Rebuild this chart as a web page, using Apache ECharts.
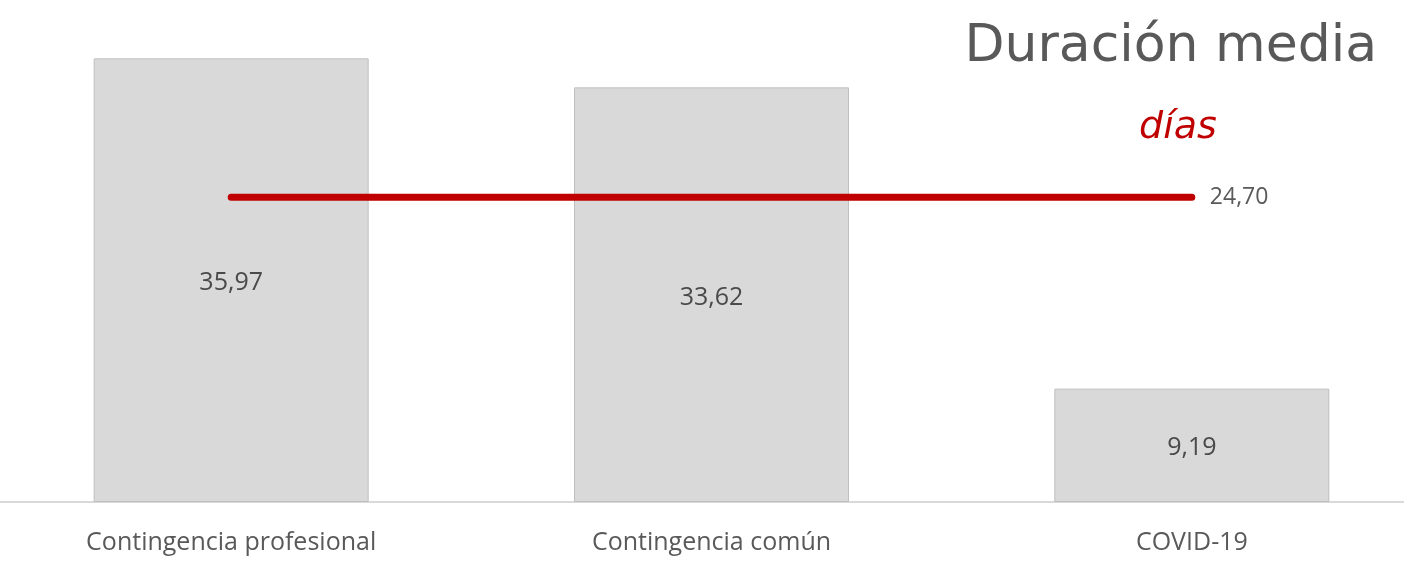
<!DOCTYPE html>
<html>
<head>
<meta charset="utf-8">
<script src="https://cdn.jsdelivr.net/npm/echarts@6/dist/echarts.min.js"></script>
<style>
html,body{margin:0;padding:0;background:#fff}
#main{width:1404px;height:569px}
</style>
</head>
<body>
<div id="main"></div>
<script>
// categorias y valores (días)
const categories = ['Contingencia profesional', 'Contingencia común', 'COVID-19']
const durationValues = [35.97, 33.62, 9.19]
// duración media global
const averageValues = [24.70, 24.70, 24.70]

const fmt = (v) => Number(v).toFixed(2).replace('.', ',')

const chart = echarts.init(document.getElementById('main'))
chart.setOption({
	animation: false,
	textStyle: { fontFamily: 'Open Sans' },
	title: [{
		text: 'Duración media',
		right: 22,
		top: 16,
		textStyle: { fontFamily: 'DejaVu Sans', fontWeight: 'normal', fontSize: 52, color: '#595959' }
	}, {
		text: 'días',
		left: 1173,
		textAlign: 'center',
		top: 104,
		textStyle: { fontFamily: 'DejaVu Sans', fontStyle: 'italic', fontWeight: 'normal', fontSize: 38, color: '#c00000' }
	}],
	grid: { left: -9, width: 1441, top: 58, bottom: 67, outerBoundsMode: 'none', containLabel: false },
	xAxis: {
		type: 'category',
		data: categories,
		axisTick: { show: false },
		axisLine: { lineStyle: { color: '#d9d9d9', width: 2 } },
		axisLabel: { color: '#595959', fontSize: 25, margin: 28, fontFamily: 'Open Sans' }
	},
	yAxis: {
		type: 'value',
		min: 0,
		max: 36,
		show: false,
		splitLine: { show: false }
	},
	series: [{
		type: 'bar',
		data: durationValues,
		barWidth: 275,
		itemStyle: { color: '#d9d9d9', borderColor: '#bfbfbf', borderWidth: 1 },
		label: {
			show: true,
			position: 'inside',
			offset: [0, 3],
			color: '#4a4a4a',
			fontSize: 25,
			fontFamily: 'Open Sans',
			formatter: (p) => fmt(p.value)
		}
	}, {
		type: 'line',
		data: averageValues,
		symbol: 'none',
		z: 5,
		lineStyle: { color: '#c00000', width: 7, cap: 'round' },
		endLabel: {
			show: true,
			distance: 18,
			color: '#595959',
			fontSize: 23,
			fontFamily: 'Open Sans',
			formatter: (p) => fmt(p.value)
		}
	}]
})
</script>
</body>
</html>
